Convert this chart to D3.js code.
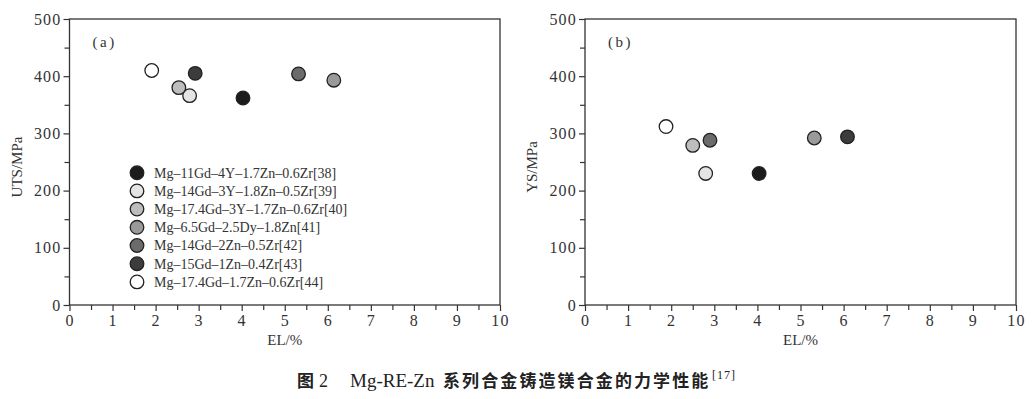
<!DOCTYPE html>
<html>
<head>
<meta charset="utf-8">
<script src="https://cdn.jsdelivr.net/npm/d3@7"></script>
<style>
  body { margin: 0; background: #fff; }
  svg text { font-family: "Liberation Serif", "Times New Roman", serif; fill: #333; }
</style>
</head>
<body>
<svg id="chart" width="1033" height="399"></svg>
<script>
// series (alloys) and their marker fills
const alloys = [
  'Mg–11Gd–4Y–1.7Zn–0.6Zr[38]',
  'Mg–14Gd–3Y–1.8Zn–0.5Zr[39]',
  'Mg–17.4Gd–3Y–1.7Zn–0.6Zr[40]',
  'Mg–6.5Gd–2.5Dy–1.8Zn[41]',
  'Mg–14Gd–2Zn–0.5Zr[42]',
  'Mg–15Gd–1Zn–0.4Zr[43]',
  'Mg–17.4Gd–1.7Zn–0.6Zr[44]'
];
const fills = ['#1c1c1c', '#e4e4e4', '#bdbdbd', '#9a9a9a', '#6b6b6b', '#3c3c3c', '#ffffff'];

// (a) elongation / UTS
const utsEl = [4.03, 2.79, 2.54, 6.14, 5.32, 2.92, 1.91];
const utsVal = [362, 366, 380, 393, 404, 405, 410];

// (b) elongation / YS, series index per point as printed
const ysSeries = [0, 1, 2, 3, 4, 5, 6];
const ysEl = [4.04, 2.8, 2.5, 5.32, 2.9, 6.09, 1.88];
const ysVal = [230, 230, 279, 292, 288, 294, 312];

const xTicks = [0, 1, 2, 3, 4, 5, 6, 7, 8, 9, 10];
const yTicks = [0, 100, 200, 300, 400, 500];

const svg = d3.select('#chart');
const axisColor = '#333';

function drawPanel(left, right, label, yTitle, pts) {
  const top = 19, bottom = 305;
  const x = d3.scaleLinear().domain([0, 10]).range([left, right]);
  const y = d3.scaleLinear().domain([0, 500]).range([bottom, top]);
  const g = svg.append('g');

  // frame
  g.append('rect')
    .attr('x', left).attr('y', top)
    .attr('width', right - left).attr('height', bottom - top)
    .attr('fill', 'none').attr('stroke', axisColor).attr('stroke-width', 1.3);

  // minor ticks
  const xAxisMinor = d3.axisBottom(x).tickValues(d3.range(0.5, 10, 1)).tickSize(5).tickFormat('');
  const yAxisMinor = d3.axisLeft(y).tickValues(d3.range(50, 500, 100)).tickSize(5).tickFormat('');

  g.append('g').attr('transform', `translate(0,${bottom})`).call(xAxisMinor);
  g.append('g').attr('transform', `translate(${left},0)`).call(yAxisMinor);

  // major ticks
  const xAxis = d3.axisBottom(x).tickValues(xTicks).tickSize(6).tickPadding(4).tickFormat(d3.format('d'));
  const yAxis = d3.axisLeft(y).tickValues(yTicks).tickSize(6).tickPadding(2).tickFormat(d3.format('d'));

  g.append('g').attr('class', 'xax').attr('transform', `translate(0,${bottom})`).call(xAxis);
  g.append('g').attr('transform', `translate(${left},0)`).call(yAxis);

  g.selectAll('.domain').remove();
  g.selectAll('.tick line').attr('stroke', axisColor).attr('stroke-width', 1.2);
  g.selectAll('.tick text').attr('font-size', 16).attr('fill', axisColor)
    .attr('letter-spacing', 1.2)
    .style('font-family', '"Liberation Serif", serif');

  // axis titles
  g.append('text')
    .attr('x', (left + right) / 2).attr('y', 345)
    .attr('text-anchor', 'middle').attr('font-size', 15)
    .text('EL/%');
  g.append('text')
    .attr('transform', `translate(${left - 48},${(top + bottom) / 2 + 5}) rotate(-90)`)
    .attr('text-anchor', 'middle').attr('font-size', 15)
    .text(yTitle);

  // panel label
  g.append('text')
    .attr('x', left + 23).attr('y', 47)
    .attr('font-size', 15)
    .attr('letter-spacing', 2.5)
    .text(label);

  // points
  g.selectAll('circle.pt')
    .data(pts)
    .join('circle')
    .attr('class', 'pt')
    .attr('cx', d => x(d.el))
    .attr('cy', d => y(d.v))
    .attr('r', 6.8)
    .attr('fill', d => fills[d.s])
    .attr('stroke', '#222')
    .attr('stroke-width', 1.3);

  return g;
}

const ptsA = utsEl.map((el, i) => ({ el, v: utsVal[i], s: i }));
const ptsB = ysEl.map((el, i) => ({ el, v: ysVal[i], s: ysSeries[i] }));

const gA = drawPanel(69.5, 500, '(a)', 'UTS/MPa', ptsA);
drawPanel(585, 1016, '(b)', 'YS/MPa', ptsB);

// legend in panel (a)
const legend = gA.append('g').attr('class', 'legend');
const rowH = 18.2;
legend.selectAll('circle')
  .data(alloys)
  .join('circle')
  .attr('cx', 137)
  .attr('cy', (d, i) => 172.7 + i * rowH)
  .attr('r', 6.8)
  .attr('fill', (d, i) => fills[i])
  .attr('stroke', '#222')
  .attr('stroke-width', 1.3);
legend.selectAll('text')
  .data(alloys)
  .join('text')
  .attr('x', 154)
  .attr('y', (d, i) => 172.7 + i * rowH + 4.8)
  .attr('font-size', 14)
  .text(d => d);

// figure caption
const cap = svg.append('g').attr('class', 'caption');
const capY = 387;
cap.append('text').attr('x', 297).attr('y', capY)
  .attr('font-size', 17).style('font-weight', 'bold')
  .style('font-family', '"Noto Sans CJK SC"').style('fill', '#222')
  .text('图');
cap.append('text').attr('x', 319).attr('y', capY)
  .attr('font-size', 18).style('fill', '#222')
  .text('2');
cap.append('text').attr('x', 350).attr('y', capY)
  .attr('font-size', 19).style('fill', '#222')
  .text('Mg-RE-Zn');
cap.append('text').attr('x', 443).attr('y', capY)
  .attr('font-size', 17).attr('letter-spacing', 2.1).style('font-weight', 'bold')
  .style('font-family', '"Noto Sans CJK SC"').style('fill', '#222')
  .text('系列合金铸造镁合金的力学性能');
cap.append('text').attr('x', 712).attr('y', capY - 8)
  .attr('font-size', 12).attr('letter-spacing', 1).style('fill', '#222')
  .text('[17]');
</script>
</body>
</html>
